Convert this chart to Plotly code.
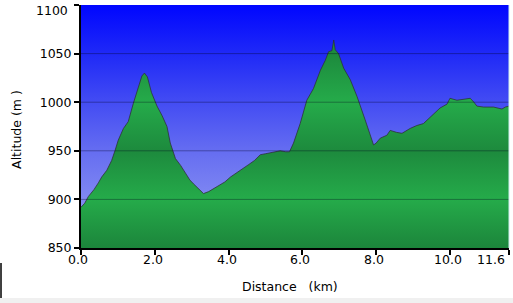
import plotly.graph_objects as go

# ---- data ----
distance_km = [0.00, 0.10, 0.20, 0.35, 0.47, 0.56, 0.70, 0.83, 0.92, 1.01, 1.15, 1.28, 1.42, 1.55,
               1.65, 1.72, 1.80, 1.91, 2.06, 2.20, 2.33, 2.42, 2.56, 2.70, 2.83, 2.95, 3.05, 3.20,
               3.32, 3.46, 3.59, 3.75, 3.90, 4.05, 4.23, 4.40, 4.55, 4.70, 4.86, 5.00, 5.22, 5.40,
               5.55, 5.65, 5.76, 5.94, 6.12, 6.30, 6.49, 6.62, 6.71, 6.80, 6.85, 6.89, 6.98, 7.12,
               7.30, 7.48, 7.70, 7.93, 8.00, 8.11, 8.29, 8.38, 8.55, 8.70, 8.92, 9.10, 9.28, 9.47,
               9.60, 9.73, 9.92, 10.00, 10.19, 10.37, 10.55, 10.65, 10.73, 10.91, 11.18, 11.41,
               11.50, 11.60]
altitude_m = [892, 896, 903, 910, 917, 923, 930, 940, 950, 961, 973, 980, 999, 1016,
              1027, 1030, 1026, 1010, 996, 986, 975, 958, 942, 935, 927, 920, 916, 911,
              906, 908, 911, 914, 918, 923, 928, 932, 936, 940, 946, 947, 949, 950,
              949, 949, 958, 978, 1002, 1014, 1033, 1043, 1052, 1053, 1064, 1054, 1050, 1035,
              1023, 1006, 982, 956, 958, 963, 966, 971, 969, 968, 973, 976, 978, 985,
              989, 994, 998, 1004, 1002, 1003, 1004, 1000, 996, 995, 995, 993,
              995, 996]

x_tick_vals = [0, 2, 4, 6, 8, 10, 11.6]
x_tick_text = ["0.0", "2.0", "4.0", "6.0", "8.0", "10.0", "11.6"]
y_tick_vals = [850, 900, 950, 1000, 1050, 1100]
y_tick_text = ["850", "900", "950", "1000", "1050", ""]
grid_vals = [900, 950, 1000, 1050]
X_RANGE = [0, 11.6]
Y_RANGE = [850, 1100]

FONT = "Verdana, DejaVu Sans, sans-serif"
FS = 12.5

fig = go.Figure()

# sky background (vertical gradient)
fig.add_trace(go.Scatter(
    x=[distance_km[0], distance_km[-1]], y=[Y_RANGE[1], Y_RANGE[1]],
    mode="none", fill="tozeroy", hoverinfo="skip", showlegend=False,
    fillgradient=dict(type="vertical", start=Y_RANGE[0], stop=Y_RANGE[1],
                      colorscale=[[0, "#959cf4"], [0.2, "#8088f2"], [0.4, "#656df1"],
                                  [0.6, "#434cf3"], [0.8, "#1f29f7"], [1, "#0006ff"]]),
))

# elevation profile
fig.add_trace(go.Scatter(
    x=distance_km, y=altitude_m, mode="lines", fill="tozeroy", showlegend=False,
    line=dict(color="rgba(45,45,55,0.75)", width=1),
    fillgradient=dict(type="vertical", start=Y_RANGE[0], stop=Y_RANGE[1],
                      colorscale=[[0, "#1c853b"], [0.2, "#25ab4a"], [0.4, "#1d8a3d"],
                                  [0.6, "#25ab4a"], [0.8, "#1d8a3d"], [1, "#25ab4a"]]),
))

shapes = []
for v in grid_vals:
    shapes.append(dict(type="line", xref="paper", yref="y", x0=0, x1=1, y0=v, y1=v,
                       line=dict(color="rgba(0,0,30,0.35)", width=1), layer="above"))
# light right border of plot
shapes.append(dict(type="line", xref="paper", yref="paper", x0=1, x1=1, y0=0, y1=1,
                   line=dict(color="#cfeeee", width=1), layer="above"))
# bottom grey strip of the page and left edge line
shapes.append(dict(type="rect", xref="paper", yref="paper", x0=-0.2, x1=1.02,
                   y0=-0.2058, y1=-0.26, fillcolor="#f0f0f0", line=dict(width=0), layer="below"))
shapes.append(dict(type="line", xref="paper", yref="paper", x0=-0.1869, x1=-0.1869,
                   y0=-0.0617, y1=-0.2058, line=dict(color="#000000", width=1.5), layer="below"))

annotations = [
    dict(text="1100", xref="paper", yref="y", x=0, y=1100, xanchor="right", yanchor="middle",
         xshift=-11, yshift=-5, showarrow=False, font=dict(family=FONT, size=FS, color="#000")),
    dict(text="Distance\u00a0\u00a0\u00a0(km)", xref="paper", yref="paper", x=0.488, y=0,
         xanchor="center", yanchor="middle", yshift=-38, showarrow=False,
         font=dict(family=FONT, size=FS, color="#000")),
    dict(text="Altitude (m )", xref="paper", yref="paper", x=-0.1495, y=0.486,
         xanchor="center", yanchor="middle", textangle=-90, showarrow=False,
         font=dict(family=FONT, size=FS, color="#000")),
]
# x tick labels (placed as text just under the axis, like the reference)
for i, (v, t) in enumerate(zip(x_tick_vals, x_tick_text)):
    last = i == len(x_tick_vals) - 1
    first = i == 0
    annotations.append(dict(
        text=t, xref="x", yref="paper", x=v, y=0,
        xanchor="right" if last else "center", yanchor="top",
        xshift=-2 if last else (-3 if first else -2), yshift=-2, showarrow=False,
        font=dict(family=FONT, size=FS, color="#000")))

fig.update_layout(
    width=513, height=303,
    margin=dict(l=81, r=4, t=5, b=55, pad=0),
    paper_bgcolor="#ffffff", plot_bgcolor="#ffffff",
    font=dict(family=FONT, size=FS, color="#000"),
    shapes=shapes, annotations=annotations,
    xaxis=dict(range=X_RANGE, tickmode="array", tickvals=x_tick_vals,
               ticktext=[""] * len(x_tick_vals),
               showgrid=False, zeroline=False, showline=True, linecolor="#000", linewidth=2,
               ticks="outside", ticklen=5, tickwidth=2, tickcolor="#000", fixedrange=True),
    yaxis=dict(range=Y_RANGE, tickmode="array", tickvals=y_tick_vals, ticktext=y_tick_text,
               showgrid=False, zeroline=False, showline=True, linecolor="#000", linewidth=2,
               ticks="outside", ticklen=5, tickwidth=2, tickcolor="#000", fixedrange=True),
)

fig.write_html("out.html")
